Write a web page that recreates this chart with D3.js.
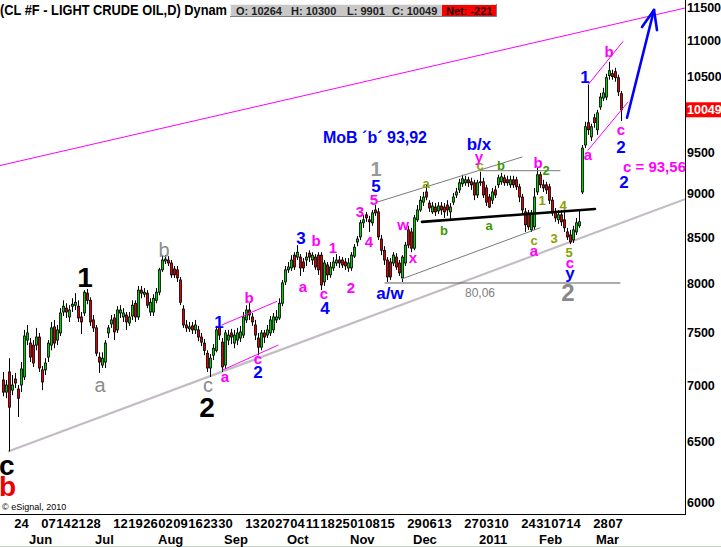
<!DOCTYPE html>
<html><head><meta charset="utf-8">
<script src="https://cdn.jsdelivr.net/npm/d3@7"></script>
<style>
body{margin:0;background:#fff;}
svg{display:block;font-family:"Liberation Sans",Arial,sans-serif;}
</style></head><body>
<svg id="c" width="721" height="547"></svg>
<script>
// ---- DATA ----
const opens=[7049,6938,7124,6956,7058,6965,7003,7077,7428,7399,7379,7379,7458,7143,7143,7264,7379,7558,7428,7498,
7707,7746,7657,7766,7776,7766,7657,7697,7900,7826,7627,7548,7264,7189,7217,7498,7587,7647,7528,7697,
7657,7677,7597,7667,7796,7657,7931,7889,7900,7707,7707,7826,7910,8145,8240,8251,8219,8155,8145,8038,
7737,7577,7538,7568,7528,7528,7458,7399,7301,7161,7282,7329,7558,7408,7189,7428,7498,7399,7428,7448,
7477,7627,7727,7657,7577,7448,7359,7498,7477,7498,7528,7627,7647,7796,8017,8145,8166,8304,8283,8283,
8230,8251,8325,8251,8283,8304,8304,8017,8198,8092,8166,8219,8251,8251,8230,8166,8166,8293,8448,8505,
8664,8755,8698,8664,8811,8789,8482,8357,8251,8230,8219,8283,8219,8060,8219,8584,8561,8380,8698,8811,
8902,9022,8891,8789,8845,8800,8857,8845,8868,8789,8902,8986,9046,9119,9131,9167,9143,9131,8986,9131,
9143,9070,8962,8925,9046,9107,9143,9191,9167,9107,9167,9167,9083,8962,8789,8777,8584,8618,9022,9228,
9107,9107,9083,8925,8789,8698,8755,8698,8561,8527,8471,8561,8630,9022,9595,9880,9698,9944,9789,10086,
10205,10218,10509,10536,10564,10481,10264];
const highs=[7124,7049,7254,7096,7115,7003,7217,7528,7577,7448,7428,7548,7498,7180,7254,7428,7607,7627,7577,7746,
7826,7796,7776,7847,7900,7826,7707,7931,7943,7857,7677,7577,7310,7310,7428,7577,7677,7687,7766,7776,
7746,7707,7707,7826,7826,7975,7975,7953,7931,7847,7889,7953,8166,8293,8304,8293,8251,8187,8187,8070,
7776,7627,7607,7607,7627,7568,7498,7438,7329,7292,7389,7568,7647,7448,7528,7528,7538,7528,7548,7568,
7707,7776,7796,7697,7627,7498,7528,7528,7577,7667,7697,7727,7847,8038,8187,8230,8304,8336,8414,8315,
8272,8336,8357,8336,8315,8336,8336,8251,8230,8230,8283,8315,8293,8283,8272,8272,8336,8425,8516,8698,
8755,8789,8743,8811,8868,8834,8527,8402,8283,8272,8336,8325,8251,8304,8448,8630,8607,8755,8868,8974,
9022,9107,8925,8902,8891,8902,8902,8891,8925,8891,9010,9070,9179,9228,9215,9203,9191,9167,9167,9264,
9191,9107,8998,9070,9095,9228,9252,9228,9215,9215,9215,9203,9119,8998,8834,8811,8811,9070,9313,9264,
9167,9143,9119,8962,8834,8811,8811,8811,8607,8584,8630,8720,8811,9595,9892,10384,9867,9996,10048,10274,
10343,10536,10702,10592,10619,10523,10300];
const lows=[6900,6882,6419,6910,6975,6715,6938,7049,7379,7217,7171,7329,7124,6956,7096,7217,7329,7349,7379,7468,
7667,7647,7607,7707,7727,7607,7488,7667,7786,7568,7508,7273,7115,7161,7161,7448,7548,7428,7498,7647,
7607,7528,7568,7627,7607,7627,7847,7857,7746,7667,7667,7796,7879,8123,8208,8187,8060,8060,8017,7776,
7548,7508,7508,7488,7488,7418,7369,7282,7124,7077,7236,7310,7428,7124,7152,7379,7389,7349,7379,7408,
7448,7597,7627,7568,7428,7282,7329,7399,7448,7468,7498,7597,7627,7766,7985,8113,8134,8145,8251,8081,
8123,8187,8230,8198,8145,8092,7931,7975,8038,8060,8134,8187,8166,8166,8145,8123,8134,8272,8402,8471,
8607,8675,8561,8630,8743,8471,8304,8198,8017,8038,8187,8145,8081,8017,8187,8380,8336,8357,8675,8789,
8857,8925,8789,8766,8743,8766,8755,8720,8743,8698,8868,8950,9010,9083,9095,9083,9046,8925,8950,9095,
8950,8857,8834,8880,8950,9070,9107,9095,9095,9070,9070,9046,8902,8766,8561,8584,8561,8584,8986,9070,
9022,8998,8880,8743,8675,8652,8630,8561,8471,8425,8437,8527,8607,8998,9556,9724,9646,9815,9724,10048,
10164,10177,10453,10453,10426,10232,9901];
const closes=[6938,7003,6802,7003,7021,6882,7152,7468,7498,7264,7208,7458,7161,7031,7208,7399,7548,7399,7528,7697,
7766,7707,7727,7786,7806,7647,7607,7910,7826,7607,7548,7301,7217,7254,7399,7548,7627,7508,7727,7727,
7697,7607,7657,7776,7657,7931,7900,7910,7776,7806,7847,7910,8145,8251,8261,8219,8092,8092,8060,7806,
7577,7548,7558,7528,7577,7458,7408,7329,7161,7254,7349,7528,7477,7171,7498,7477,7458,7477,7498,7508,
7657,7727,7677,7607,7477,7359,7498,7458,7528,7627,7657,7657,7796,8007,8145,8176,8251,8176,8336,8166,
8166,8283,8283,8304,8176,8145,7985,8219,8092,8176,8230,8251,8219,8198,8187,8219,8304,8391,8482,8664,
8698,8720,8675,8777,8777,8505,8357,8251,8070,8070,8304,8176,8113,8283,8414,8414,8380,8720,8811,8925,
8962,8962,8834,8857,8789,8857,8811,8789,8811,8845,8962,9022,9131,9179,9167,9131,9107,8986,9131,9143,
8986,8902,8845,9022,8986,9191,9203,9131,9131,9167,9107,9083,8962,8811,8641,8618,8777,8962,9228,9107,
9070,9046,8925,8777,8720,8755,8675,8607,8505,8448,8584,8664,8675,9556,9828,9789,9828,9880,10009,10218,
10274,10481,10578,10495,10481,10288,10049];
// 10000 is hidden behind the last-price tag in the reference
const yTicks=[6000,6500,7000,7500,8000,8500,9000,9500,10500,11000,11500];
const dayLabels=["24","07","14","21","28","12","19","26","02","09","16","23","30","13","20","27","04","11","18","25","01","08","15","29","06","13","27","03","10","24","31","07","14","28","07"];
const dayIndex=[6,15,20,25,30,39,44,49,54,59,64,69,74,83,88,93,98,103,108,113,118,123,128,137,142,147,156,161,166,175,180,185,190,199,204];
const monthLabels=["Jun","Jul","Aug","Sep","Oct","Nov","Dec","2011","Feb","Mar"];
const monthIndex=[11,33,54,76,97,118,139,161,181,200];
const title="(CL #F - LIGHT CRUDE OIL,D) Dynam";
const ohlcText=["O: 10264","H: 10300","L: 9901","C: 10049"];
const netText="Net: -221";
const lastPrice=10049;
// trend lines: [index1, price1, index2, price2, kind]
const trendLines=[
 [-1,9340,227.33,11485,"mag"],
 [1.67,6418,227.33,8937,"grayWide"],
 [124.67,8902,173,9445,"chan"],
 [133,8049,179,8607,"chan"],
 [127.33,8006,205.67,8006,"dark"],
 [159,9277,185.67,9277,"chan"],
 [139.67,8675,197.33,8822,"neck"],
 [73,7577,91.33,7816,"mag"],
 [73.33,7143,91.67,7379,"mag"],
 [195,10384,206.67,10992,"mag"],
 [195,9530,208.33,10151,"mag"],
 [208,9944,217,11455,"arrow"],
 [213,11202,217,11455,"arrow"],
 [218,11157,217,11455,"arrow"]
];
// wave labels: [text, index, price, kind, anchor]
const notes=[
 ["c",-1.3,6223,"bigK","start"],["b",-1.3,6054,"bigR","start"],
 ["1",27.33,7964,"bigK"],["a",32.33,6938,"grayL"],["b",53.67,8283,"grayL"],["c",68.33,6935,"grayL"],["2",68,6715,"bigK"],
 ["1",72,7548,"blue"],["b",82,7796,"mag"],["a",74,7031,"mag"],["c",85,7200,"mag"],["2",85,7065,"blue"],
 ["3",99.33,8425,"blue"],["b",104.33,8402,"mag"],["a",100,7910,"mag"],["c",107,7836,"mag"],["4",107.33,7685,"blue"],
 ["1",110,8325,"mag"],["2",116,7900,"mag"],["4",122,8391,"mag"],["3",119,8732,"mag"],["5",123.67,8868,"mag"],
 ["5",124.33,9025,"blue"],["1",124.33,9210,"grayB"],["a/w",129,7836,"blue"],["w",133.33,8584,"mag"],["x",136.67,8219,"mag"],
 ["a",141,9070,"olive"],["b",147,8527,"green"],["a",162,8584,"green"],["c",159,9290,"olive"],["y",158.67,9385,"mag"],
 ["b/x",158.67,9535,"blue"],["b",166,9283,"green"],["b",178.33,9312,"mag"],["2",181,9228,"green"],["1",179.67,8868,"olive"],
 ["4",186.67,8811,"olive"],["3",183.67,8437,"olive"],["c",177,8415,"olive"],["a",177,8290,"mag"],["5",188.67,8285,"olive"],
 ["c",189,8160,"mag"],["y",189,8050,"blue"],["2",188.33,7820,"grayB2"],["80,06",159,7857,"grayS"],
 ["MoB \u00b4b\u00b4 93,92",106.67,9621,"blueT","start"],
 ["1",194,10412,"blue"],["b",202,10771,"mag"],["a",195,9406,"mag"],["c",206,9720,"mag"],["2",206,9495,"blue"],
 ["c = 93,56",206.67,9259,"magT","start"],["2",207,9065,"blue"]
];

// ---- DRAW ----
const svg=d3.select("#c");
const W=685,H=514;
const x=d3.scaleLinear().domain([-1,227.3333]).range([0,W]);
const y=d3.scaleLog().domain([6000,11500]).range([502.8,7]);
const bars=opens.map((o,i)=>({i,o,h:highs[i],l:lows[i],c:closes[i]}));

svg.append("defs").append("clipPath").attr("id","pc").append("rect").attr("x",0).attr("y",0).attr("width",W).attr("height",H);
const plot=svg.append("g").attr("clip-path","url(#pc)");

const lineStyle={
 mag:{c:"#ff00ff",w:1},grayWide:{c:"#c4bcc4",w:2.2},chan:{c:"#7a7a7a",w:1},dark:{c:"#5a5a5a",w:1},
 neck:{c:"#000",w:2.6},arrow:{c:"#0000ff",w:2.6}
};
trendLines.filter(t=>t[4]==="grayWide").forEach(t=>{
 plot.append("line").attr("x1",x(t[0])).attr("y1",y(t[1])).attr("x2",x(t[2])).attr("y2",y(t[3]))
  .attr("stroke",lineStyle[t[4]].c).attr("stroke-width",lineStyle[t[4]].w);
});

const cg=plot.append("g");
bars.forEach(b=>{
 const px=Math.round(x(b.i));
 cg.append("line").attr("x1",px+0.5).attr("x2",px+0.5).attr("y1",y(b.h)).attr("y2",y(b.l)).attr("stroke","#000").attr("stroke-width",1);
 const top=y(Math.max(b.o,b.c)), bot=y(Math.min(b.o,b.c));
 cg.append("rect").attr("x",px-0.5).attr("y",top).attr("width",2).attr("height",Math.max(1,bot-top))
  .attr("fill",b.c>=b.o?"#00d000":"#e00000").attr("stroke","#000").attr("stroke-width",0.8);
});

trendLines.filter(t=>t[4]!=="grayWide").forEach(t=>{
 plot.append("line").attr("x1",x(t[0])).attr("y1",y(t[1])).attr("x2",x(t[2])).attr("y2",y(t[3]))
  .attr("stroke",lineStyle[t[4]].c).attr("stroke-width",lineStyle[t[4]].w).attr("stroke-linecap","round");
});

const noteStyle={
 bigK:{s:28,w:"bold",c:"#000"},bigR:{s:28,w:"bold",c:"#ee0000"},grayL:{s:20,w:"normal",c:"#8c8c8c"},
 grayB:{s:20,w:"bold",c:"#999"},grayB2:{s:24,w:"bold",c:"#888"},blue:{s:17,w:"bold",c:"#0000ff"},
 mag:{s:15,w:"bold",c:"#ff00ff"},olive:{s:13,w:"bold",c:"#8aa000"},green:{s:13,w:"bold",c:"#3a9a00"},
 grayS:{s:12,w:"normal",c:"#808080"},blueT:{s:16,w:"bold",c:"#0000ff"},magT:{s:15,w:"bold",c:"#ff00ff"}
};
const ng=svg.append("g");
notes.forEach(n=>{
 const st=noteStyle[n[3]];
 ng.append("text").attr("x",x(n[1])).attr("y",y(n[2])).attr("text-anchor",n[4]||"middle")
  .attr("font-size",st.s).attr("font-weight",st.w).attr("fill",st.c).text(n[0]);
});

// frame
svg.append("line").attr("x1",W+0.5).attr("x2",W+0.5).attr("y1",0).attr("y2",H+1).attr("stroke","#000");
svg.append("line").attr("x1",0).attr("x2",W+1).attr("y1",H+0.5).attr("y2",H+0.5).attr("stroke","#000");
svg.append("line").attr("x1",0).attr("x2",721).attr("y1",546.5).attr("y2",546.5).attr("stroke","#c8d0c8");

// y axis
const ya=svg.append("g").attr("transform",`translate(${W},0)`)
 .call(d3.axisRight(y).tickValues(yTicks).tickSize(0).tickPadding(2).tickFormat(d3.format("d")));
ya.select(".domain").remove();
ya.selectAll("text").attr("font-size",12.5).attr("font-weight","bold").attr("fill","#000").attr("font-family","Liberation Sans, Arial");
const ly=y(lastPrice);
svg.append("rect").attr("x",686).attr("y",ly-7.5).attr("width",35).attr("height",15).attr("fill","#ff0000");
svg.append("text").attr("x",687).attr("y",ly+4.5).attr("font-size",12.5).attr("font-weight","bold").attr("fill","#fff").text(lastPrice);

// x axis
const xa=svg.append("g").attr("transform",`translate(0,${H})`)
 .call(d3.axisBottom(x).tickValues(dayIndex).tickSize(0).tickPadding(4.8).tickFormat((d,k)=>dayLabels[k]));
xa.select(".domain").remove();
xa.selectAll("text").attr("font-size",13).attr("font-weight","bold").attr("fill","#000").attr("font-family","Liberation Sans, Arial");
monthLabels.forEach((m,k)=>{
 svg.append("text").attr("x",x(monthIndex[k])-7).attr("y",544).attr("font-size",13).attr("font-weight","bold").attr("fill","#000").text(m);
});

// title & OHLC box
svg.append("text").attr("x",0).attr("y",15).attr("font-size",14).attr("font-weight","bold").attr("fill","#000")
 .attr("textLength",227).attr("lengthAdjust","spacingAndGlyphs").text(title);
const bx=230,by=4,bw=267,bh=13;
svg.append("rect").attr("x",bx).attr("y",by).attr("width",bw).attr("height",bh).attr("fill","#c8c8c8");
svg.append("path").attr("d",`M${bx+0.5},${by+bh}V${by+0.5}H${bx+bw}`).attr("stroke","#f0f0f0").attr("fill","none");
svg.append("path").attr("d",`M${bx},${by+bh-0.5}H${bx+bw-0.5}V${by}`).attr("stroke","#808080").attr("fill","none");
svg.append("rect").attr("x",442).attr("y",by+1).attr("width",54).attr("height",bh-2).attr("fill","#ff0000");
const ohlcX=[236,291,347,392];
ohlcText.forEach((t,k)=>svg.append("text").attr("x",ohlcX[k]).attr("y",15).attr("font-size",11).attr("font-weight","bold").attr("fill","#202020").text(t));
svg.append("text").attr("x",446).attr("y",15).attr("font-size",11).attr("font-weight","bold").attr("fill","#200000").text(netText);

svg.append("text").attr("x",2).attr("y",510).attr("font-size",9).attr("fill","#000").text("\u00a9 eSignal, 2010");
</script>
</body></html>
